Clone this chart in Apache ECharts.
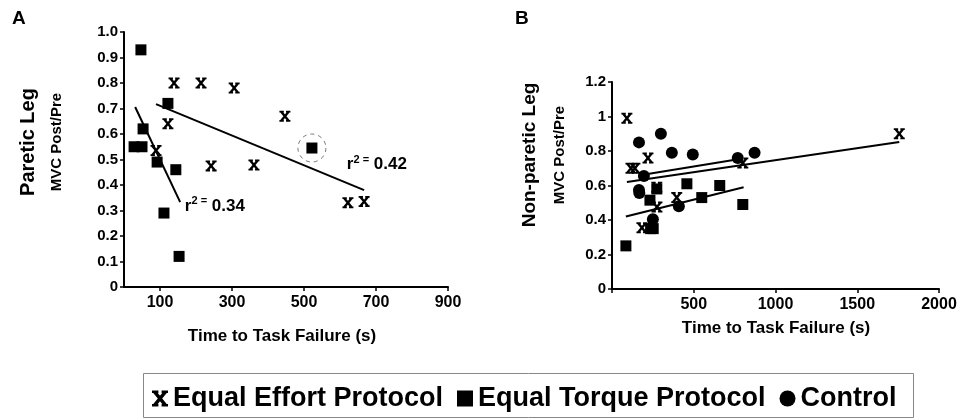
<!DOCTYPE html>
<html>
  <head>
    <meta charset="utf-8" />
    <title>MVC vs time to task failure</title>
    <script src="https://cdn.jsdelivr.net/npm/echarts@6.0.0/dist/echarts.min.js"></script>
    <style>
      html, body { margin: 0; padding: 0; background: #fff; }
    </style>
  </head>
  <body>
    <div id="main" style="width: 965px;height:418px;"></div>
    <script type="text/javascript">
      // panel A (paretic leg): [time to task failure (s), MVC post/pre]
      var aEffort = [[139, 0.80], [214, 0.80], [306, 0.78], [447, 0.67], [122, 0.64], [89, 0.535],
                     [242, 0.475], [361, 0.478], [622, 0.33], [667, 0.335]];
      var aTorque = [[47, 0.93], [28, 0.55], [50, 0.55], [53, 0.62], [122, 0.72], [92, 0.49],
                     [144, 0.46], [522, 0.545], [111, 0.29], [153, 0.12]];
      var aTorqueFit = [[31, 0.706], [156, 0.333]];
      var aEffortFit = [[89, 0.717], [667, 0.38]];
      var aCircled = [[522, 0.545]];
      var aXLabels = [100, 300, 500, 700, 900];

      // panel B (non-paretic leg)
      var bEffort = [[91, 0.99], [116, 0.70], [140, 0.70], [220, 0.76], [274, 0.59], [396, 0.53],
                     [800, 0.73], [1757, 0.90], [275, 0.475], [183, 0.355]];
      var bTorque = [[274, 0.58], [458, 0.61], [659, 0.60], [549, 0.53], [232, 0.515], [800, 0.49],
                     [236, 0.35], [252, 0.35], [85, 0.25]];
      var bControl = [[165, 0.85], [299, 0.90], [366, 0.79], [494, 0.78], [769, 0.76], [872, 0.79],
                      [195, 0.655], [165, 0.574], [167, 0.556], [409, 0.48], [250, 0.405]];
      var bControlFit = [[171, 0.66], [781, 0.754]];
      var bEffortFit = [[91, 0.62], [1757, 0.852]];
      var bTorqueFit = [[85, 0.42], [805, 0.59]];

      var chartDom = document.getElementById('main');
      var myChart = echarts.init(chartDom);
      var option;

      var FONT = 'Liberation Sans';
      // X with little flat serifs at the four ends
      var crossPath = 'path://M0,0 L4,0 L4,1.6 L0,1.6 Z M6,0 L10,0 L10,1.6 L6,1.6 Z ' +
        'M0,8.4 L4,8.4 L4,10 L0,10 Z M6,8.4 L10,8.4 L10,10 L6,10 Z ' +
        'M0.8,1.6 L3.6,1.6 L9.2,8.4 L6.4,8.4 Z M6.4,1.6 L9.2,1.6 L3.6,8.4 L0.8,8.4 Z';

      function axisBase(extra) {
        var base = {
          axisLine: { show: true, onZero: false, lineStyle: { color: '#000', width: 2 } },
          axisTick: { show: true, length: 4, lineStyle: { color: '#000', width: 1.5 } },
          splitLine: { show: false },
          axisLabel: { color: '#000', fontWeight: 'bold', fontFamily: FONT, fontSize: 15, margin: 6 }
        };
        return Object.assign(base, extra);
      }

      function fitLine(name, data, xi) {
        return {
          name: name, type: 'line', data: data, xAxisIndex: xi, yAxisIndex: xi,
          symbol: 'none', lineStyle: { color: '#000', width: 2 }, silent: true, z: 1
        };
      }

      function rLabel(data, text) {
        return {
          name: 'r2', type: 'scatter', data: data, symbolSize: 0, silent: true,
          itemStyle: { color: '#000', opacity: 1 },
          label: {
            show: true, position: 'right', distance: 0, color: '#000', opacity: 1,
            formatter: text,
            rich: {
              a: { fontSize: 17, fontWeight: 'bold', fontFamily: FONT, color: '#000' },
              s: { fontSize: 11, fontWeight: 'bold', fontFamily: FONT, color: '#000', padding: [0, 0, 9, 0] }
            }
          }
        };
      }

      option = {
        animation: false,
        backgroundColor: '#fff',
        grid: [
          { left: 124, top: 32, width: 324, height: 255 },
          { left: 612, top: 82, width: 327, height: 207 }
        ],
        xAxis: [
          axisBase({
            gridIndex: 0, type: 'value', min: 0, max: 900,
            axisTick: { show: true, length: 4, customValues: aXLabels, lineStyle: { color: '#000', width: 1.5 } },
            axisLabel: { customValues: aXLabels, color: '#000', fontWeight: 'bold', fontFamily: FONT, fontSize: 16, margin: 8 }
          }),
          axisBase({
            gridIndex: 1, type: 'value', min: 0, max: 2000, interval: 500,
            axisLabel: {
              color: '#000', fontWeight: 'bold', fontFamily: FONT, fontSize: 16, margin: 8,
              formatter: function (v) { return v === 0 ? '' : String(v); }
            }
          })
        ],
        yAxis: [
          axisBase({
            gridIndex: 0, type: 'value', min: 0, max: 1, interval: 0.1,
            axisLabel: {
              color: '#000', fontWeight: 'bold', fontFamily: FONT, fontSize: 15, margin: 6,
              formatter: function (v) { return v === 0 ? '0' : v.toFixed(1); }
            }
          }),
          axisBase({ gridIndex: 1, type: 'value', min: 0, max: 1.2, interval: 0.2 })
        ],
        legend: {
          left: 147, top: 380,
          itemWidth: 16, itemHeight: 16, itemGap: 14,
          textStyle: { fontSize: 27, fontWeight: 'bold', fontFamily: FONT, color: '#000' },
          data: [
            { name: 'Equal Effort Protocol', icon: crossPath },
            { name: 'Equal Torque Protocol', icon: 'rect' },
            { name: 'Control', icon: 'circle' }
          ]
        },
        graphic: [
          { type: 'rect', shape: { x: 143.5, y: 373.5, width: 770, height: 44 },
            style: { fill: 'none', stroke: '#888', lineWidth: 1 } },
          { type: 'text', left: 12, top: 9, style: { text: 'A', fontSize: 19, fontWeight: 'bold', fontFamily: FONT, fill: '#000' } },
          { type: 'text', left: 515, top: 9, style: { text: 'B', fontSize: 19, fontWeight: 'bold', fontFamily: FONT, fill: '#000' } },
          { type: 'text', x: 28, y: 142, rotation: Math.PI / 2,
            style: { text: 'Paretic Leg', fontSize: 20, fontWeight: 'bold', fontFamily: FONT, fill: '#000', align: 'center', verticalAlign: 'middle' } },
          { type: 'text', x: 57, y: 142, rotation: Math.PI / 2,
            style: { text: 'MVC Post/Pre', fontSize: 15, fontWeight: 'bold', fontFamily: FONT, fill: '#000', align: 'center', verticalAlign: 'middle' } },
          { type: 'text', x: 530, y: 155, rotation: Math.PI / 2,
            style: { text: 'Non-paretic Leg', fontSize: 19, fontWeight: 'bold', fontFamily: FONT, fill: '#000', align: 'center', verticalAlign: 'middle' } },
          { type: 'text', x: 560, y: 155, rotation: Math.PI / 2,
            style: { text: 'MVC Post/Pre', fontSize: 15, fontWeight: 'bold', fontFamily: FONT, fill: '#000', align: 'center', verticalAlign: 'middle' } },
          { type: 'text', x: 282, y: 336,
            style: { text: 'Time to Task Failure (s)', fontSize: 17, fontWeight: 'bold', fontFamily: FONT, fill: '#000', align: 'center', verticalAlign: 'middle' } },
          { type: 'text', x: 776, y: 328,
            style: { text: 'Time to Task Failure (s)', fontSize: 17, fontWeight: 'bold', fontFamily: FONT, fill: '#000', align: 'center', verticalAlign: 'middle' } }
        ],
        series: [
          fitLine('fitA1', aTorqueFit, 0),
          fitLine('fitA2', aEffortFit, 0),
          { name: 'Equal Effort Protocol', type: 'scatter', xAxisIndex: 0, yAxisIndex: 0, data: aEffort,
            symbol: crossPath, symbolSize: 11, itemStyle: { color: '#000', opacity: 1 } },
          { name: 'Equal Torque Protocol', type: 'scatter', xAxisIndex: 0, yAxisIndex: 0, data: aTorque,
            symbol: 'rect', symbolSize: 11, itemStyle: { color: '#000', opacity: 1 } },
          { name: 'circled', type: 'scatter', xAxisIndex: 0, yAxisIndex: 0, data: aCircled,
            symbol: 'circle', symbolSize: 28, silent: true,
            itemStyle: { color: 'rgba(0,0,0,0)', borderColor: '#555', borderWidth: 1, borderType: [4, 4] } },
          Object.assign(rLabel([[619, 0.48]], '{a|r}{s|2 =}{a| 0.42}'), { xAxisIndex: 0, yAxisIndex: 0 }),
          Object.assign(rLabel([[169, 0.318]], '{a|r}{s|2 =}{a| 0.34}'), { xAxisIndex: 0, yAxisIndex: 0 }),

          fitLine('fitB1', bControlFit, 1),
          fitLine('fitB2', bEffortFit, 1),
          fitLine('fitB3', bTorqueFit, 1),
          { name: 'Control', type: 'scatter', xAxisIndex: 1, yAxisIndex: 1, data: bControl,
            symbol: 'circle', symbolSize: 12, itemStyle: { color: '#000', opacity: 1 } },
          { name: 'Equal Torque Protocol', type: 'scatter', xAxisIndex: 1, yAxisIndex: 1, data: bTorque,
            symbol: 'rect', symbolSize: 11, itemStyle: { color: '#000', opacity: 1 } },
          { name: 'Equal Effort Protocol', type: 'scatter', xAxisIndex: 1, yAxisIndex: 1, data: bEffort,
            symbol: crossPath, symbolSize: 11, itemStyle: { color: '#000', opacity: 1 } }
        ]
      };

      option && myChart.setOption(option);
    </script>
  </body>
</html>
